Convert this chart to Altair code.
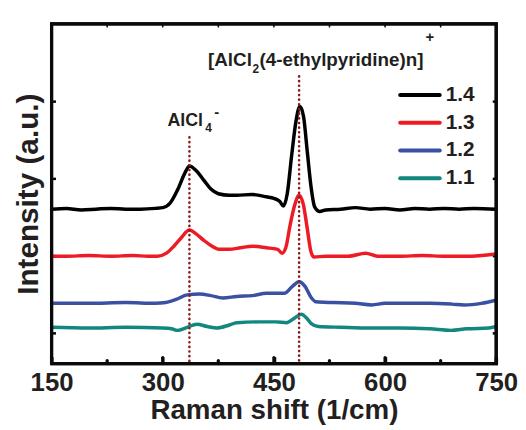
import altair as alt
import pandas as pd

# ---- data ----
series_names = ["1.4", "1.3", "1.2", "1.1"]
series_colors = ["#000000", "#ED1C24", "#3A51A3", "#11877F"]

x_14 = [150, 170, 190, 210, 230, 250, 270, 290, 300, 310, 320, 330, 336, 345, 355, 365, 375, 390, 400, 420, 440, 450, 458, 463, 468, 474, 480, 485, 490, 495, 500, 505, 512, 520, 540, 560, 580, 600, 620, 640, 660, 680, 700, 720, 750]
y_14 = [1.60, 1.61, 1.59, 1.60, 1.61, 1.60, 1.60, 1.61, 1.62, 1.68, 1.85, 2.07, 2.16, 2.10, 1.98, 1.86, 1.80, 1.78, 1.78, 1.79, 1.76, 1.74, 1.70, 1.64, 1.80, 2.30, 2.75, 2.93, 2.80, 2.35, 1.90, 1.63, 1.57, 1.59, 1.60, 1.62, 1.60, 1.61, 1.59, 1.61, 1.60, 1.61, 1.60, 1.61, 1.60]

x_13 = [150, 170, 200, 230, 260, 280, 293, 305, 315, 325, 336, 345, 355, 365, 377, 390, 405, 421, 440, 455, 461, 466, 472, 478, 484, 490, 495, 500, 504, 520, 550, 574, 590, 620, 650, 680, 710, 750]
y_13 = [0.99, 0.99, 1.00, 0.99, 1.00, 0.99, 0.99, 1.03, 1.12, 1.23, 1.33, 1.28, 1.20, 1.13, 1.08, 1.08, 1.10, 1.12, 1.10, 1.08, 1.03, 1.10, 1.40, 1.65, 1.78, 1.65, 1.35, 1.05, 0.98, 0.99, 0.99, 1.03, 0.99, 0.99, 1.00, 0.99, 0.99, 1.02]

x_12 = [150, 200, 250, 290, 304, 318, 333, 350, 365, 381, 400, 421, 440, 464, 475, 484, 492, 500, 507, 530, 560, 582, 600, 630, 660, 690, 707, 730, 750]
y_12 = [0.38, 0.38, 0.39, 0.38, 0.39, 0.43, 0.49, 0.50, 0.48, 0.45, 0.47, 0.48, 0.51, 0.51, 0.60, 0.66, 0.60, 0.46, 0.40, 0.39, 0.38, 0.36, 0.38, 0.38, 0.38, 0.37, 0.36, 0.38, 0.42]

x_11 = [150, 200, 250, 300, 312, 320, 333, 346, 360, 373, 390, 400, 430, 453, 467, 478, 487, 495, 500, 510, 540, 580, 620, 660, 689, 710, 740, 750]
y_11 = [0.07, 0.06, 0.07, 0.06, 0.05, 0.03, 0.07, 0.11, 0.08, 0.06, 0.10, 0.13, 0.14, 0.14, 0.13, 0.19, 0.24, 0.18, 0.12, 0.08, 0.07, 0.06, 0.06, 0.05, 0.03, 0.05, 0.06, 0.08]

# dotted marker lines
marker_x = [336, 484]
marker_top = [2.53, 3.32]
marker_bottom = [-0.4, -0.4]

# axis ranges and ticks
x_domain = [150, 750]
y_domain = [-0.4, 4]
major_ticks = [150, 300, 450, 600, 750]
minor_ticks = [225, 375, 525, 675]
top_ticks = [150, 225, 300, 375, 450, 525, 600, 675, 750]
y_ticks = [0, 1, 2, 3]

# annotation text pieces (main / subscript / superscript)
small_text = ["AlCl"]
small_x = [306.3]
small_y = [2.68]
big_text = ["[AlCl", "(4-ethylpyridine)n]"]
big_x = [361.1, 430.6]
big_y = [3.45, 3.45]
sub_text = ["4", "2"]
sub_x = [357.5, 421.3]
sub_y = [2.60, 3.37]
sup_text = ["-", "+"]
sup_x = [369.5, 654.5]
sup_y = [2.80, 3.76]

# legend (drawn inside the plot)
leg_x1 = [620.4] * 4
leg_x2 = [673.8] * 4
leg_tx = [681.9] * 4
leg_y = [3.08, 2.72, 2.36, 2.00]

# ---- build tables ----
W, H = 449, 343
PX = (y_domain[1] - y_domain[0]) / H   # one pixel in y units
INK = "#0a0a0a"

rows = []
for name, xs, ys in zip(series_names, [x_14, x_13, x_12, x_11], [y_14, y_13, y_12, y_11]):
    for xv, yv in zip(xs, ys):
        rows.append({"series": name, "x": xv, "y": yv})
df = pd.DataFrame(rows)
df_mark = pd.DataFrame({"x": marker_x, "y1": marker_top, "y2": marker_bottom})
df_small = pd.DataFrame({"t": small_text, "x": small_x, "y": small_y})
df_big = pd.DataFrame({"t": big_text, "x": big_x, "y": big_y})
df_sub = pd.DataFrame({"t": sub_text, "x": sub_x, "y": sub_y})
df_sup = pd.DataFrame({"t": sup_text, "x": sup_x, "y": sup_y})
df_leg = pd.DataFrame({"series": series_names, "x1": leg_x1, "x2": leg_x2, "tx": leg_tx, "y": leg_y})

x0, x1 = x_domain
y0, y1 = y_domain
# closed outline of the plotting area, traced as a path
df_outline = pd.DataFrame({
    "i": [0, 1, 2, 3, 4],
    "fx": [x0, x0, x1, x1, x0],
    "fy": [y0, y1, y1, y0, y0],
})
df_major = pd.DataFrame({"x": major_ticks, "ya": [y0] * len(major_ticks), "yb": [y0 + 6 * PX] * len(major_ticks)})
df_minor = pd.DataFrame({"x": minor_ticks, "ya": [y0] * len(minor_ticks), "yb": [y0 + 3 * PX] * len(minor_ticks)})
df_top = pd.DataFrame({"x": top_ticks, "ya": [y1] * len(top_ticks), "yb": [y1 - 3 * PX] * len(top_ticks)})

FONT = "Liberation Sans"
TXT = "#231F20"
XS = alt.Scale(domain=x_domain, nice=False, zero=False)
YS = alt.Scale(domain=y_domain, nice=False, zero=False)
CS = alt.Scale(domain=series_names, range=series_colors)

lines = alt.Chart(df).mark_line(strokeWidth=3.5, strokeJoin="round", strokeCap="round", interpolate="monotone").encode(
    x=alt.X("x:Q", scale=XS, axis=alt.Axis(
        orient="bottom", values=major_ticks, tickSize=7, offset=-7, tickWidth=2.8, tickColor=INK,
        domain=False, grid=False, labelFont=FONT, labelFontSize=26, labelFontWeight="bold",
        labelColor=TXT, labelPadding=6, labelFlush=False, labelOverlap=False,
        title="Raman shift (1/cm)", titleFont=FONT, titleFontSize=28, titleFontWeight="bold",
        titleColor=TXT, titlePadding=1)),
    y=alt.Y("y:Q", scale=YS, axis=alt.Axis(
        orient="left", values=y_ticks, tickSize=4, offset=-4, tickWidth=2.5, tickColor=INK,
        domain=False, grid=False, labels=False,
        title="Intensity (a.u.)", titleFont=FONT, titleFontSize=30, titleFontWeight="bold",
        titleColor=TXT, titlePadding=7)),
    color=alt.Color("series:N", scale=CS, legend=None),
    order=alt.Order("series:N"),
)

markers = alt.Chart(df_mark).mark_rule(color="#8B1A1A", strokeWidth=2.6, strokeDash=[0.1, 4.6], strokeCap="round").encode(
    x=alt.X("x:Q", scale=XS, axis=None),
    y=alt.Y("y1:Q", scale=YS, axis=alt.Axis(
        orient="right", values=y_ticks, tickSize=4, offset=-4, tickWidth=2.5, tickColor=INK,
        domain=False, grid=False, labels=False, title=None)),
    y2="y2:Q",
)

def tick_layer(d, width):
    return alt.Chart(d).mark_rule(color=INK, strokeWidth=width, strokeCap="round").encode(
        x=alt.X("x:Q", scale=XS, axis=None),
        y=alt.Y("ya:Q", scale=YS, axis=None),
        y2="yb:Q",
    )

major_l = tick_layer(df_major, 3.2)
minor_l = tick_layer(df_minor, 3.2)
top_l = tick_layer(df_top, 1.6)

# frame drawn two ways: a traced path and an outlined rectangle
outline = alt.Chart(df_outline).mark_line(color=INK, strokeWidth=3.2, strokeJoin="miter", strokeCap="round").encode(
    x=alt.X("fx:Q", scale=XS, axis=None),
    y=alt.Y("fy:Q", scale=YS, axis=None),
    order=alt.Order("i:Q"),
)
box = alt.Chart(pd.DataFrame({"k": [0]})).mark_rect(filled=False, stroke=INK, strokeWidth=3.2).encode(
    x=alt.value(0), x2=alt.value(W), y=alt.value(0), y2=alt.value(H)
)

def text_layer(d, size):
    return alt.Chart(d).mark_text(font=FONT, fontSize=size, fontWeight="bold", color=TXT,
                                  align="left", baseline="alphabetic").encode(
        x=alt.X("x:Q", scale=XS, axis=None),
        y=alt.Y("y:Q", scale=YS, axis=None),
        text="t:N",
    )

small_lbl = text_layer(df_small, 18)
big_lbl = text_layer(df_big, 19)
sub_lbl = text_layer(df_sub, 12)
sup_lbl = text_layer(df_sup, 15)

leg_rule = alt.Chart(df_leg).mark_rule(strokeWidth=4, strokeCap="round").encode(
    x=alt.X("x1:Q", scale=XS, axis=None),
    x2="x2:Q",
    y=alt.Y("y:Q", scale=YS, axis=None),
    color=alt.Color("series:N", scale=CS, legend=None),
)
leg_text = alt.Chart(df_leg).mark_text(font=FONT, fontSize=21, fontWeight="bold", color=TXT,
                                       align="left", baseline="middle").encode(
    x=alt.X("tx:Q", scale=XS, axis=None),
    y=alt.Y("y:Q", scale=YS, axis=None),
    text="series:N",
)

chart = alt.layer(lines, markers, major_l, minor_l, top_l, small_lbl, big_lbl, sub_lbl, sup_lbl,
                  leg_rule, leg_text, outline, box).resolve_axis(
    x="independent", y="independent"
).properties(
    width=W, height=H,
    padding={"left": 5, "top": 7, "right": 0, "bottom": 0},
)

chart.save("out.html", embed_options={"renderer": "svg", "actions": False})
